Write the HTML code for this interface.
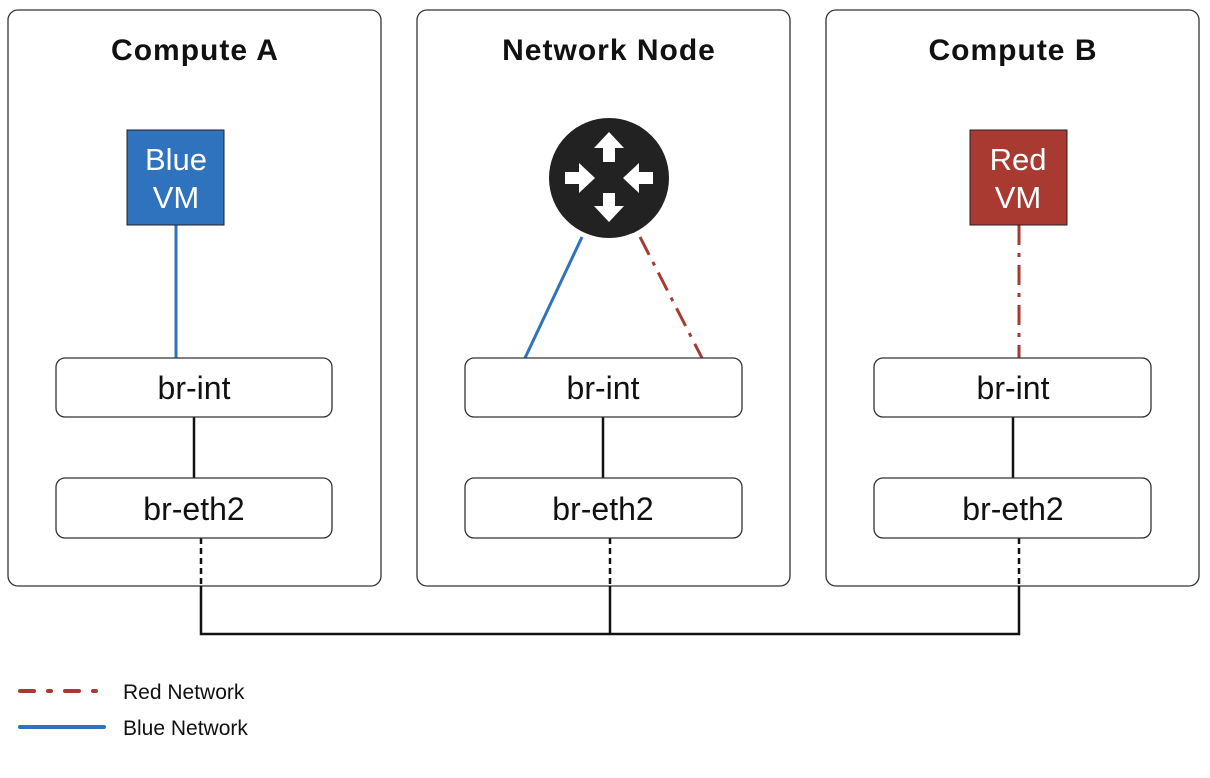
<!DOCTYPE html>
<html><head><meta charset="utf-8"><style>
html,body{margin:0;padding:0;background:#fff;}
svg{display:block;font-family:"Liberation Sans",Arial,sans-serif;}
</style></head><body>
<svg width="1210" height="778" viewBox="0 0 1210 778" xmlns="http://www.w3.org/2000/svg">
<g fill="#fff" stroke="#333" stroke-width="1.3">
<rect x="8" y="10" width="373" height="576" rx="10"/>
<rect x="417" y="10" width="373" height="576" rx="10"/>
<rect x="826" y="10" width="373" height="576" rx="10"/>
</g>
<g font-weight="bold" font-size="30" text-anchor="middle" fill="#111" letter-spacing="1">
<text x="195" y="60">Compute A</text>
<text x="609" y="60">Network Node</text>
<text x="1013" y="60">Compute B</text>
</g>
<!-- connectors -->
<line x1="176" y1="225" x2="176" y2="358" stroke="#2f72bd" stroke-width="3"/>
<line x1="582" y1="237" x2="525" y2="358" stroke="#2f72bd" stroke-width="3"/>
<line x1="640" y1="237" x2="702" y2="358" stroke="#a83a32" stroke-width="3" stroke-dasharray="20,8,4,8"/>
<line x1="1019" y1="225" x2="1019" y2="358" stroke="#a83a32" stroke-width="3" stroke-dasharray="20,8,4,8"/>
<g stroke="#111" stroke-width="2.5">
<line x1="194" y1="417" x2="194" y2="478"/>
<line x1="603" y1="417" x2="603" y2="478"/>
<line x1="1013" y1="417" x2="1013" y2="478"/>
</g>
<g stroke="#111" stroke-width="2.5" stroke-dasharray="6,4">
<line x1="201" y1="538" x2="201" y2="586"/>
<line x1="610" y1="538" x2="610" y2="586"/>
<line x1="1019" y1="538" x2="1019" y2="586"/>
</g>
<polyline points="201,586 201,634 1019,634 1019,586" fill="none" stroke="#111" stroke-width="2.5"/>
<line x1="610" y1="586" x2="610" y2="634" stroke="#111" stroke-width="2.5"/>
<!-- VMs -->
<rect x="127" y="130" width="97" height="95" fill="#2f72bd" stroke="#222" stroke-width="1"/>
<rect x="970" y="130" width="97" height="95" fill="#a83a32" stroke="#222" stroke-width="1"/>
<g fill="#fff" font-size="31" text-anchor="middle">
<text x="176" y="170">Blue</text><text x="176" y="208">VM</text>
<text x="1018" y="170">Red</text><text x="1018" y="208">VM</text>
</g>
<!-- router -->
<circle cx="609" cy="178" r="60" fill="#222"/>
<g fill="#fff">
<path d="M609,132 L624,148 L615,148 L615,162 L603,162 L603,148 L594,148 Z"/>
<path d="M609,222 L624,206 L615,206 L615,193 L603,193 L603,206 L594,206 Z"/>
<path d="M595,178 L579,163 L579,172 L565,172 L565,184 L579,184 L579,193 Z"/>
<path d="M623,178 L639,163 L639,172 L653,172 L653,184 L639,184 L639,193 Z"/>
</g>
<!-- bridges -->
<g fill="#fff" stroke="#333" stroke-width="1.3">
<rect x="56" y="358" width="276" height="59" rx="9"/>
<rect x="465" y="358" width="277" height="59" rx="9"/>
<rect x="874" y="358" width="277" height="59" rx="9"/>
<rect x="56" y="478" width="276" height="60" rx="9"/>
<rect x="465" y="478" width="277" height="60" rx="9"/>
<rect x="874" y="478" width="277" height="60" rx="9"/>
</g>
<g font-size="32" text-anchor="middle" fill="#111">
<text x="194" y="399">br-int</text>
<text x="603" y="399">br-int</text>
<text x="1013" y="399">br-int</text>
<text x="194" y="520">br-eth2</text>
<text x="603" y="520">br-eth2</text>
<text x="1013" y="520">br-eth2</text>
</g>
<!-- legend -->
<line x1="20" y1="691" x2="104" y2="691" stroke="#a83a32" stroke-width="4" stroke-linecap="round" stroke-dasharray="14,14,3,14"/>
<line x1="20" y1="727" x2="104" y2="727" stroke="#2f72bd" stroke-width="4" stroke-linecap="round"/>
<g font-size="21" fill="#111">
<text x="123" y="699">Red Network</text>
<text x="123" y="735">Blue Network</text>
</g>
</svg>
</body></html>
